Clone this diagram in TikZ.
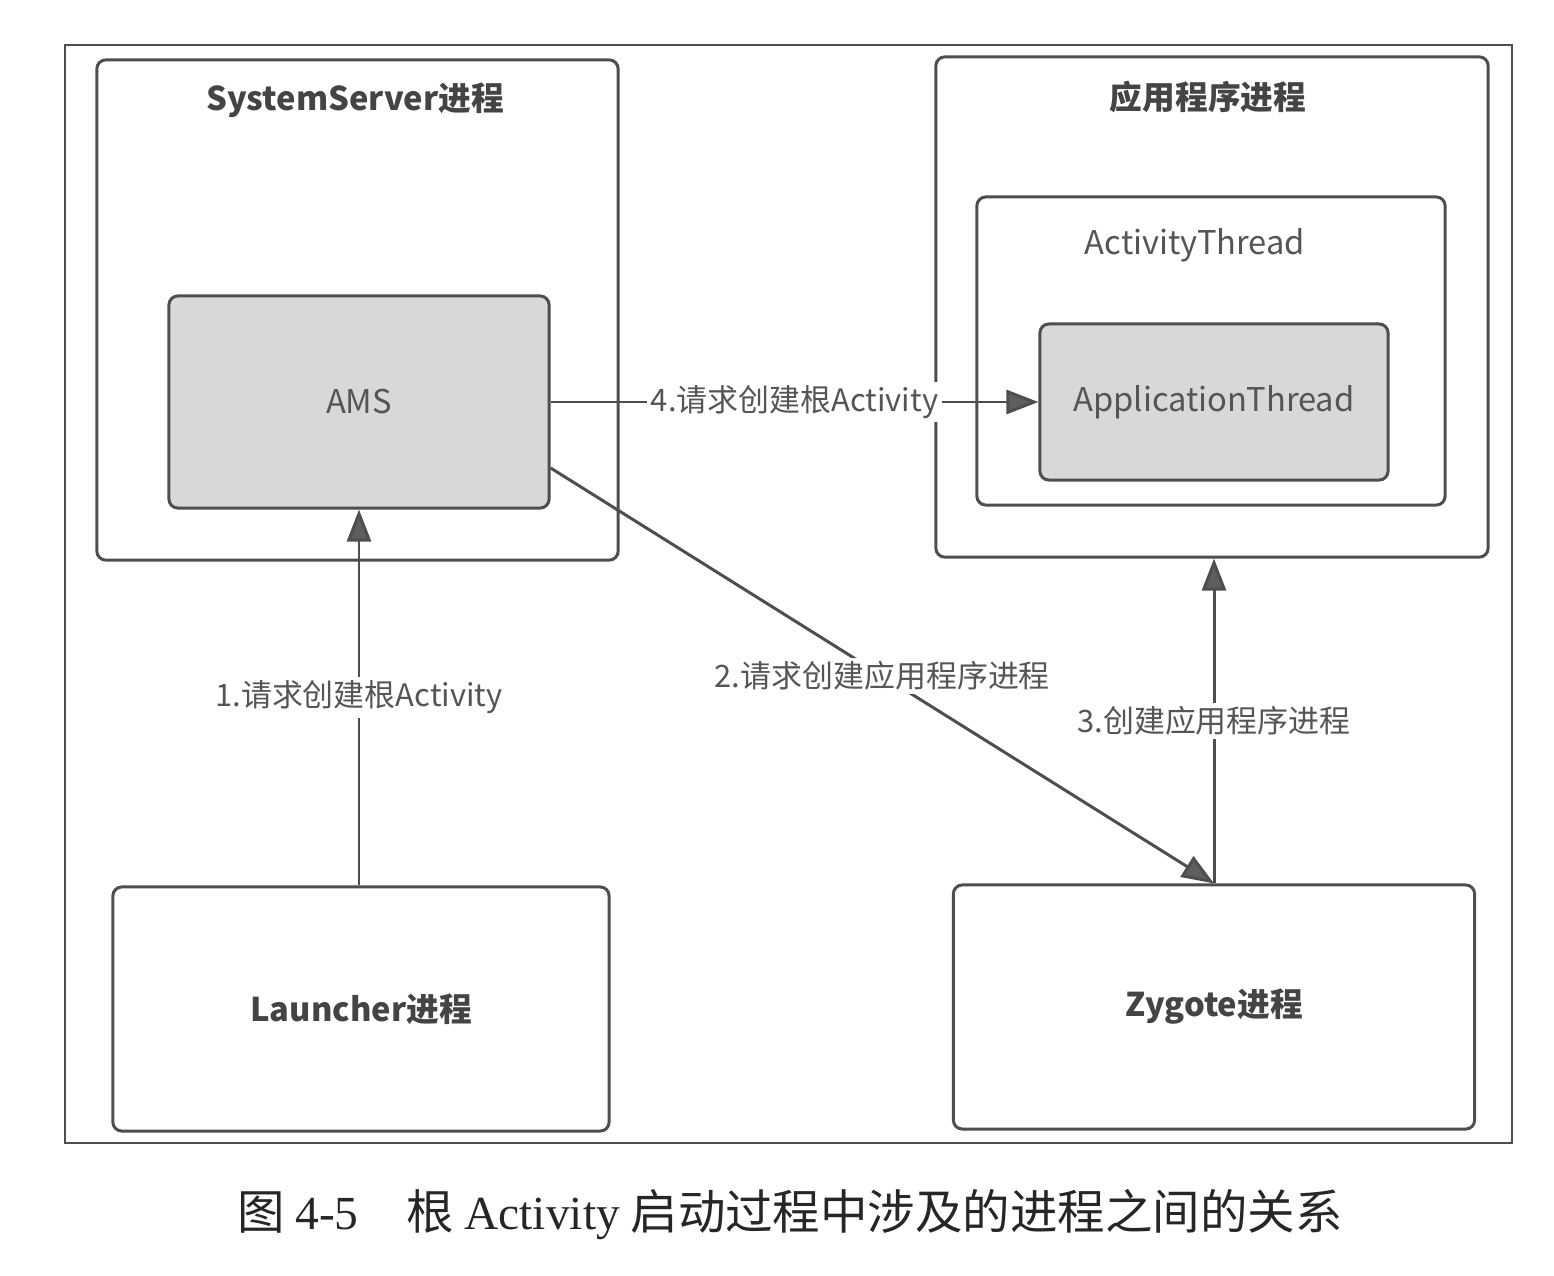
\documentclass[tikz,border=0pt]{standalone}
\usepackage{fontspec}
\setmainfont{Noto Sans CJK SC}
\newfontfamily\capserif{Liberation Serif}
\newfontfamily\capcjk{Noto Sans CJK SC}
\usetikzlibrary{arrows.meta}
\definecolor{ln}{HTML}{4E4E4E}
\definecolor{tx}{HTML}{555555}
\definecolor{ttl}{HTML}{444444}
\definecolor{gr}{HTML}{D8D8D8}
\definecolor{tip}{HTML}{5E5E5E}
\begin{document}
\begin{tikzpicture}[x=0.01cm,y=-0.01cm,
  box/.style={draw=ln, line width=0.85pt, rounded corners=0.9mm, inner sep=0pt},
  grbox/.style={box, fill=gr},
  ttlfont/.style={font=\fontsize{9.3pt}{11pt}\selectfont\bfseries, text=ttl},
  txtfont/.style={font=\fontsize{9.3pt}{11pt}\selectfont, text=tx},
  lbl/.style={font=\fontsize{8.8pt}{11pt}\selectfont, text=tx, fill=white, inner sep=1pt},
  arr/.style={draw=ln, line width=0.85pt, -{Triangle[length=3.2mm,width=2.4mm,fill=tip]}}
]
\useasboundingbox (0,0) rectangle (1554,1276);
\node[draw=ln, line width=0.6pt, minimum width=14.47cm, minimum height=10.98cm, inner sep=0pt] (frame) at (788.5,594) {};
% left top: SystemServer
\node[box, minimum width=5.21cm, minimum height=5.00cm] (sys) at (357.5,310) {};
\node[ttlfont] (systitle) at (355,100) {SystemServer进程};
\node[grbox, minimum width=3.80cm, minimum height=2.12cm, txtfont] (ams) at (359,402) {AMS};
% right top: app process
\node[box, minimum width=5.52cm, minimum height=5.00cm] (app) at (1212,307) {};
\node[ttlfont] (apptitle) at (1208,97) {应用程序进程};
\node[box, minimum width=4.68cm, minimum height=3.08cm] (at) at (1211,351) {};
\node[txtfont] (attitle) at (1195,245) {ActivityThread};
\node[grbox, minimum width=3.48cm, minimum height=1.56cm, txtfont] (apt) at (1214,402) {ApplicationThread};
% bottom boxes
\node[box, minimum width=4.96cm, minimum height=2.44cm, ttlfont] (lau) at (361,1009) {Launcher进程};
\node[box, minimum width=5.21cm, minimum height=2.44cm, ttlfont] (zyg) at (1214,1007) {Zygote进程};
% connectors
\draw[arr] (lau.north -| ams.south) -- node[lbl] {1.请求创建根Activity} (ams.south);
\draw[arr] (ams.east) -- node[lbl] {4.请求创建根Activity} (apt.west);
\draw[arr] (ams.-19) -- node[lbl, pos=0.5] {2.请求创建应用程序进程} (zyg.north);
\draw[arr] (zyg.north) -- node[lbl] {3.创建应用程序进程} (zyg.north |- app.south);
% caption
\node[font=\fontsize{13.5pt}{16pt}\selectfont, text=black!85] (cap) at (790,1215)
  {\capcjk 图 {\capserif 4-5}\quad 根 {\capserif Activity} 启动过程中涉及的进程之间的关系};
\end{tikzpicture}
\end{document}
